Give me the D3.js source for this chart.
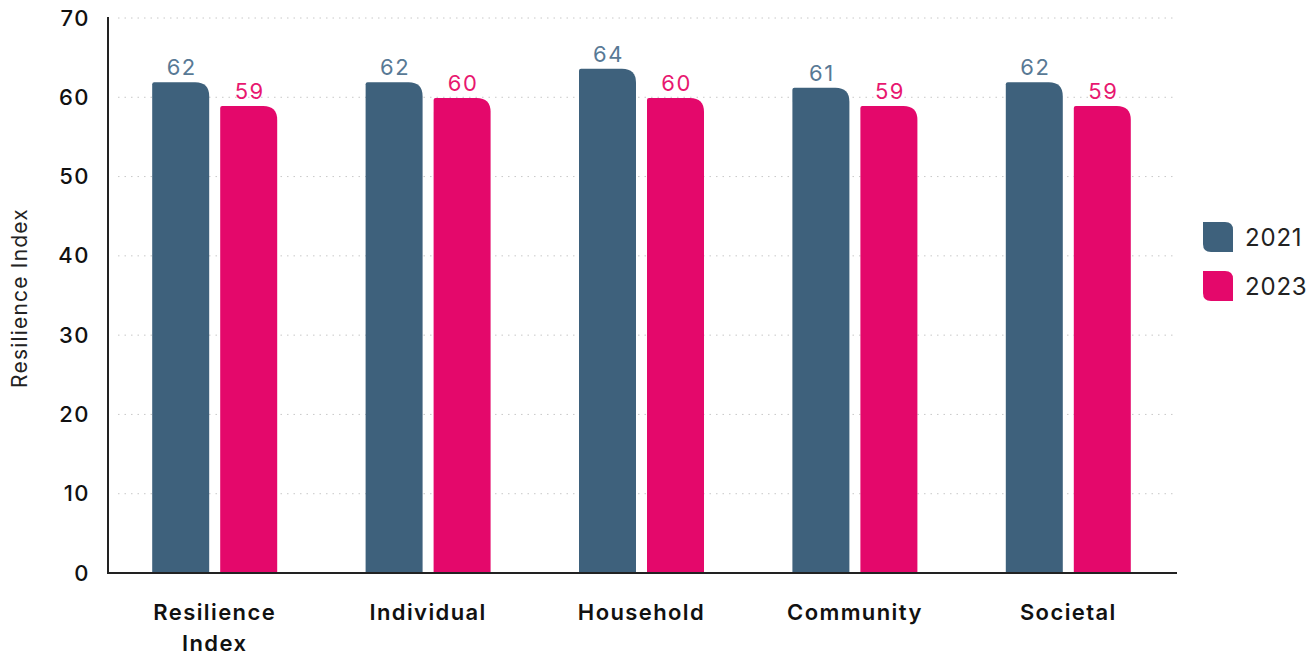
<!DOCTYPE html>
<html>
<head>
  <meta charset="utf-8">
  <title>Resilience Index</title>
  <script src="https://cdn.jsdelivr.net/npm/d3@7"></script>
  <style>
    body { margin: 0; background: #fff; }
    text { font-family: Inter, "DejaVu Sans", sans-serif; }
    .grid line { stroke: #c8c8c8; stroke-dasharray: 1.5 5; }
  </style>
</head>
<body>
<svg width="1312" height="655"></svg>
<script>
// data
var categories = ["Resilience Index", "Individual", "Household", "Community", "Societal"];
var years = ["2021", "2023"];
var values2021 = [61.9, 61.9, 63.6, 61.2, 61.9];
var values2023 = [58.9, 59.9, 59.9, 58.9, 58.9];
var yTicks = [0, 10, 20, 30, 40, 50, 60, 70];

var barColor = { "2021": "#3e617c", "2023": "#e4086b" };
var labelColor = { "2021": "#587995", "2023": "#e8176f" };

var svg = d3.select("svg");
var plotL = 108, plotR = 1175, plotT = 18, plotB = 573;

var x = d3.scaleBand().domain(categories).range([plotL, plotR]).paddingInner(0).paddingOuter(0);
var y = d3.scaleLinear().domain([0, 70]).range([plotB, plotT]);

var barW = 57, gap = 11;

// grid
svg.append("g").attr("class", "grid")
  .selectAll("line").data(yTicks.slice(1)).enter().append("line")
  .attr("x1", plotL + 10).attr("x2", plotR)
  .attr("y1", function(d) { return y(d); })
  .attr("y2", function(d) { return y(d); });

// bar path: small top-left radius, large top-right radius
function barPath(x0, y0, w, h) {
  var rl = 2, rr = 14;
  var p = d3.path();
  p.moveTo(x0, y0 + h);
  p.lineTo(x0, y0 + rl);
  p.quadraticCurveTo(x0, y0, x0 + rl, y0);
  p.lineTo(x0 + w - rr, y0);
  p.quadraticCurveTo(x0 + w, y0, x0 + w, y0 + rr);
  p.lineTo(x0 + w, y0 + h);
  p.closePath();
  return p.toString();
}

var rows = [];
categories.forEach(function(c, i) {
  rows.push({ cat: c, year: "2021", value: values2021[i], k: 0 });
  rows.push({ cat: c, year: "2023", value: values2023[i], k: 1 });
});

function barX(d) {
  var center = x(d.cat) + x.bandwidth() / 2;
  var start = center - (barW * 2 + gap) / 2;
  return start + d.k * (barW + gap);
}

svg.append("g").selectAll("path").data(rows).enter().append("path")
  .attr("d", function(d) { return barPath(barX(d), y(d.value), barW, y(0) - y(d.value)); })
  .attr("fill", function(d) { return barColor[d.year]; });

svg.append("g").selectAll("text").data(rows).enter().append("text")
  .attr("x", function(d) { return barX(d) + barW / 2 + 1; })
  .attr("y", function(d) { return y(d.value) - 7; })
  .attr("text-anchor", "middle")
  .attr("font-size", 22)
  .attr("letter-spacing", 1.5)
  .attr("fill", function(d) { return labelColor[d.year]; })
  .text(function(d) { return Math.round(d.value); });

// y axis
var yAxis = svg.append("g").attr("transform", "translate(" + plotL + ",0)")
  .call(d3.axisLeft(y).tickValues(yTicks).tickSize(0).tickPadding(18));
yAxis.select(".domain").attr("stroke", "#222").attr("stroke-width", 2)
  .attr("d", "M0," + (plotT - 1) + "V" + plotB);
yAxis.selectAll("text").attr("font-size", 22).attr("font-weight", 500)
  .attr("letter-spacing", 1.5).attr("fill", "#111");

// x axis
var xAxis = svg.append("g").attr("transform", "translate(0," + plotB + ")")
  .call(d3.axisBottom(x).tickSize(0).tickFormat(""));
xAxis.select(".domain").attr("stroke", "#222").attr("stroke-width", 2)
  .attr("d", "M" + (plotL - 1) + ",0H" + (plotR + 2));

var catLabels = svg.append("g").selectAll("text").data(categories).enter().append("text")
  .attr("x", function(d) { return x(d) + x.bandwidth() / 2; })
  .attr("y", 620)
  .attr("text-anchor", "middle")
  .attr("font-size", 22)
  .attr("font-weight", 600)
  .attr("letter-spacing", 1.4)
  .attr("fill", "#111");
catLabels.each(function(d) {
  var t = d3.select(this);
  var words = d === "Resilience Index" ? ["Resilience", "Index"] : [d];
  words.forEach(function(w, i) {
    t.append("tspan").attr("x", x(d) + x.bandwidth() / 2).attr("dy", i ? 31 : 0).text(w);
  });
});

// y title
svg.append("text")
  .attr("transform", "translate(27," + 298 + ") rotate(-90)")
  .attr("text-anchor", "middle")
  .attr("font-size", 21)
  .attr("letter-spacing", 1.2)
  .attr("fill", "#222")
  .text("Resilience Index");

// legend
function swatch(x0, y0, s) {
  var r = 8;
  var p = d3.path();
  p.moveTo(x0, y0);
  p.lineTo(x0 + s - r, y0);
  p.quadraticCurveTo(x0 + s, y0, x0 + s, y0 + r);
  p.lineTo(x0 + s, y0 + s);
  p.lineTo(x0 + r, y0 + s);
  p.quadraticCurveTo(x0, y0 + s, x0, y0 + s - r);
  p.closePath();
  return p.toString();
}
var legend = svg.append("g").selectAll("g").data(years).enter().append("g")
  .attr("transform", function(d, i) { return "translate(1203," + (222 + i * 49) + ")"; });
legend.append("path").attr("d", swatch(0, 0, 30)).attr("fill", function(d) { return barColor[d]; });
legend.append("text").attr("x", 42).attr("y", 24).attr("font-size", 24)
  .attr("letter-spacing", 0.8).attr("fill", "#222")
  .text(function(d) { return d; });
</script>
</body>
</html>
